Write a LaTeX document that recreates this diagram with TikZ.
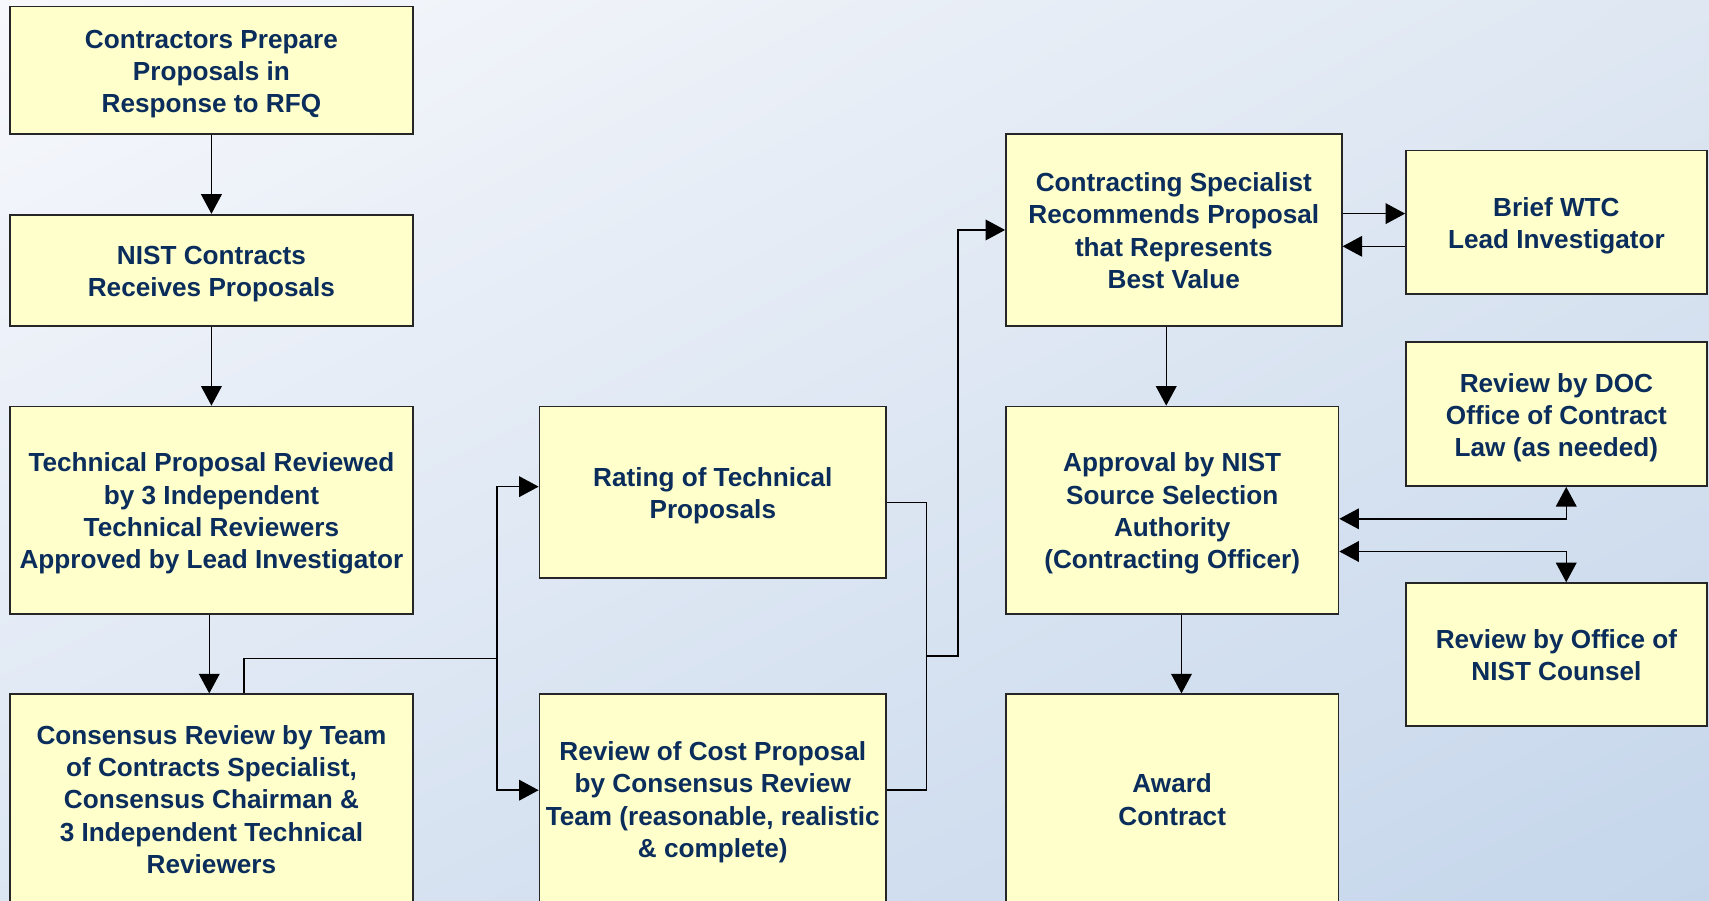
\documentclass[tikz,border=0pt]{standalone}
\usepackage{fontspec}
\setmainfont{Liberation Sans}
\usepackage{tikz}
\usetikzlibrary{arrows.meta, positioning, shadings}

\definecolor{boxyellow}{RGB}{255,255,204}
\definecolor{textnavy}{RGB}{10,45,92}
\definecolor{bgtl}{RGB}{247,248,252}
\definecolor{bgtr}{RGB}{222,231,242}
\definecolor{bgbl}{RGB}{220,230,243}
\definecolor{bgbr}{RGB}{197,214,235}

\newcommand{\topstrut}{\rule{0pt}{23.5pt}}
\newcommand{\botstrut}{\rule[-5.1pt]{0pt}{5.1pt}}

\begin{document}
\begin{tikzpicture}[x=1pt, y=-1pt,
  >={Triangle[length=18pt,width=19pt]},
  box/.style={draw=black!85, line width=1.6pt, fill=boxyellow, inner sep=0pt,
    align=center, text=textnavy, font=\bfseries\fontsize{24}{29.5}\selectfont,
    execute at end node=\botstrut},
  link/.style={line width=1.3pt, black}]

\useasboundingbox (0,0) rectangle (1568,826);
\clip (0,0) rectangle (1568,826);
\shade[upper left=bgtl, upper right=bgtr, lower left=bgbl, lower right=bgbr]
  (0,0) rectangle (1568,826);

% left column
\node[box, minimum width=370pt, minimum height=117pt] (prep) at (194,64.5)
  {\topstrut Contractors Prepare\\Proposals in\\Response to RFQ};
\node[box, minimum width=370pt, minimum height=102pt] (recv) at (194,248)
  {\topstrut NIST Contracts\\Receives Proposals};
\node[box, minimum width=370pt, minimum height=190pt] (tech) at (194,468)
  {\topstrut Technical Proposal Reviewed\\by 3 Independent\\Technical Reviewers\\Approved by Lead Investigator};
\node[box, minimum width=370pt, minimum height=192pt] (cons) at (194,733)
  {\topstrut Consensus Review by Team\\of Contracts Specialist,\\Consensus Chairman \&\\3 Independent Technical\\Reviewers};

% middle column
\node[box, minimum width=318pt, minimum height=157pt] (rate) at (654,451.5)
  {\topstrut Rating of Technical\\Proposals};
\node[box, minimum width=318pt, minimum height=192pt] (cost) at (654,733)
  {\topstrut Review of Cost Proposal\\by Consensus Review\\Team (reasonable, realistic\\\& complete)};

% right columns
\node[box, minimum width=308pt, minimum height=176pt] (recom) at (1077,211)
  {\topstrut Contracting Specialist\\Recommends Proposal\\that Represents\\Best Value};
\node[box, minimum width=305pt, minimum height=190pt] (appr) at (1075.5,468)
  {\topstrut Approval by NIST\\Source Selection\\Authority\\(Contracting Officer)};
\node[box, minimum width=305pt, minimum height=192pt] (award) at (1075.5,733)
  {\topstrut Award\\Contract};
\node[box, minimum width=276pt, minimum height=132pt] (brief) at (1428,204)
  {\topstrut Brief WTC\\Lead Investigator};
\node[box, minimum width=276pt, minimum height=132pt] (doc) at (1428,380)
  {\topstrut Review by DOC\\Office of Contract\\Law (as needed)};
\node[box, minimum width=276pt, minimum height=131pt] (counsel) at (1428,600.5)
  {\topstrut Review by Office of\\NIST Counsel};

% connectors
\draw[link, ->] (prep) -- (recv);
\draw[link, ->] (recv) -- (tech);
\draw[link, ->] ([xshift=-2pt]tech.south) -- ([xshift=-2pt]cons.north);

\coordinate (split) at (456,604);
\draw[link] ([xshift=30pt]cons.north) |- (split);
\draw[link, ->] (split) |- ([yshift=5pt]rate.west);
\draw[link, ->] (split) |- ([yshift=8pt]cost.west);

\coordinate (merge) at (850,602);
\draw[link] ([yshift=-9.5pt]rate.east) -| (merge);
\draw[link] ([yshift=8pt]cost.east) -| (merge);
\draw[link, ->] (merge) -- ++(29,0) |- (recom.west);

\coordinate (r1) at ([yshift=15pt]recom.east);
\draw[link, ->] (r1) -- (r1 -| brief.west);
\coordinate (b1) at ([yshift=-22pt]brief.west);
\draw[link, ->] (b1) -- (b1 -| recom.east);

\coordinate (r2) at ([xshift=-7pt]recom.south);
\draw[link, ->] (r2) -- (r2 |- appr.north);
\coordinate (a1) at ([xshift=8.5pt]appr.south);
\draw[link, ->] (a1) -- (a1 |- award.north);

\coordinate (a2) at ([yshift=-8pt]appr.east);
\draw[link, <->] (a2) -| ([xshift=9pt]doc.south);
\coordinate (a3) at ([yshift=-38pt]appr.east);
\draw[link, <->] (a3) -| ([xshift=9pt]counsel.north);

\end{tikzpicture}
\end{document}
